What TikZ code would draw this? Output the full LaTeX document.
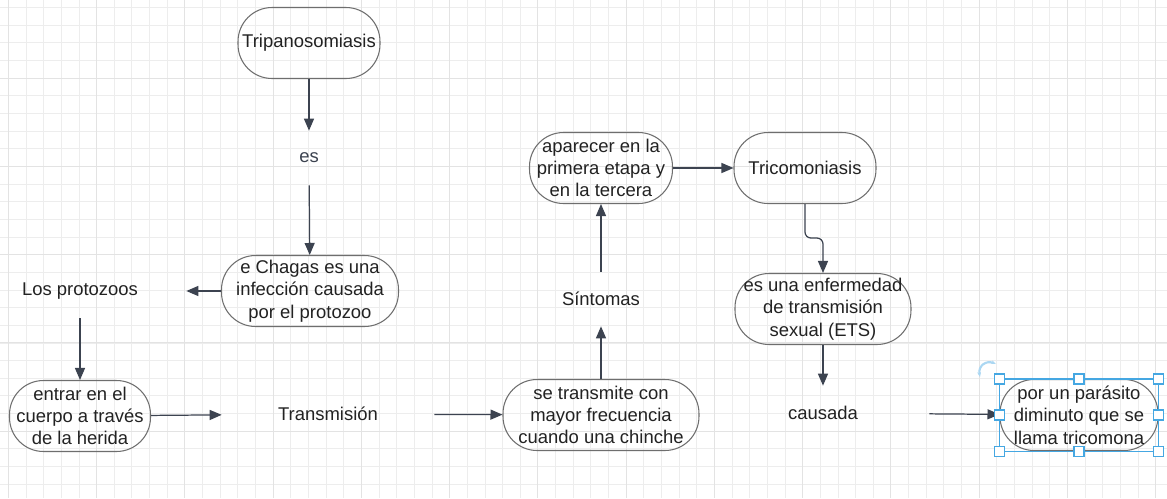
\documentclass[tikz,border=0pt]{standalone}
\usepackage{fontspec}
\setmainfont{Liberation Sans}
\usetikzlibrary{arrows.meta,positioning}
\definecolor{linec}{HTML}{3C4350}
\definecolor{boxc}{HTML}{6E6E6E}
\definecolor{textc}{HTML}{222222}
\definecolor{selblue}{HTML}{45A7E2}
\begin{document}
\begin{tikzpicture}[x=0.02cm,y=-0.02cm,font=\fontsize{10.5pt}{12.7pt}\selectfont,text=textc]
\tikzstyle{block} = [rectangle, draw=boxc, line width=0.6pt, rounded corners=0.68cm, align=center, inner sep=0pt, minimum height=1.42cm]
\tikzstyle{word} = [rectangle, align=center, inner sep=0pt, minimum width=4.24cm, minimum height=1.08cm]
\tikzstyle{arrow} = [-{Triangle[length=2.4mm, width=2mm]}, draw=linec, line width=0.7pt]
\tikzstyle{handle} = [draw=selblue, fill=white, line width=0.6pt]
\useasboundingbox (0,0) rectangle (1167,498);
\fill[white] (0,0) rectangle (1167,498);
\foreach \i in {0,...,65} \draw[gray!14, line width=0.4pt] ({8.3+17.65*\i},0) -- ++(0,498);
\foreach \j in {0,...,27} \draw[gray!14, line width=0.4pt] (0,{7.5+17.65*\j}) -- ++(1167,0);
\foreach \i in {0,5,...,65} \draw[gray!22, line width=0.45pt] ({8.3+17.65*\i},0) -- ++(0,498);
\foreach \j in {4,9,...,24} \draw[gray!22, line width=0.45pt] (0,{7.5+17.65*\j}) -- ++(1167,0);
\node[block, minimum width=2.84cm] (trip) at (309,43) {Tripanosomiasis};
\node[word, text=linec] (es) at (309,158) {es};
\node[block, minimum width=3.54cm] (chagas) at (310,291) {e Chagas es una\\infección causada\\por el protozoo};
\node[word] (prot) at (80,291) {Los protozoos};
\node[block, minimum width=2.82cm] (entrar) at (80,416) {entrar en el\\cuerpo a través\\de la herida};
\node[word] (trans) at (328,414) {Transmisión};
\node[block, minimum width=3.92cm] (chinche) at (601,415) {se transmite con\\mayor frecuencia\\cuando una chinche};
\node[word] (sint) at (601,299) {Síntomas};
\node[block, minimum width=2.86cm] (etapa) at (601,168) {aparecer en la\\primera etapa y\\en la tercera};
\node[block, minimum width=2.84cm] (trico) at (805,168) {Tricomoniasis};
\node[block, minimum width=3.52cm] (ets) at (823,309) {es una enfermedad\\de transmisión\\sexual (ETS)};
\node[word] (causada) at (823,413) {causada};
\node[block, minimum width=3.16cm] (parasito) at (1079,415) {por un parásito\\diminuto que se\\llama tricomona};
\draw[arrow] (trip) -- (es);
\draw[arrow] (es) -- (chagas);
\draw[arrow] (chagas) -- (prot);
\draw[arrow] (prot) -- (entrar);
\draw[arrow] (entrar) -- (trans);
\draw[arrow] (trans) -- (chinche);
\draw[arrow] (chinche) -- (sint);
\draw[arrow] (sint) -- (etapa);
\draw[arrow] (etapa) -- (trico);
\draw[arrow, rounded corners=0.12cm] (trico.south) -- ++(0,34) -| (ets.north);
\draw[arrow] (ets) -- (causada);
\draw[arrow] (causada) -- (parasito);
\draw[selblue, line width=0.6pt] (parasito.south west) rectangle (parasito.north east);
\foreach \p in {north west,north,north east,west,east,south west,south,south east}
  \draw[handle] ([shift={(-5,-5)}]parasito.\p) rectangle ([shift={(5,5)}]parasito.\p);
\draw[selblue!45, line width=1.2pt, {Stealth[length=1mm]}-{Stealth[length=1mm]}] (980,377) .. controls (978,366) and (986,360) .. (996,364);
\end{tikzpicture}
\end{document}
